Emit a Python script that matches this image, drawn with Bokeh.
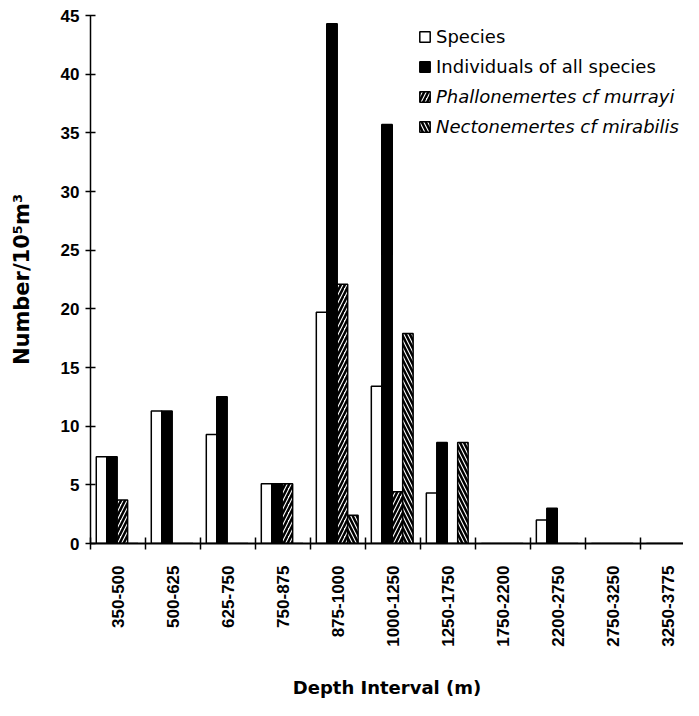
import math
from bokeh.plotting import figure
from bokeh.models import Range1d, FixedTicker, ColumnDataSource, Legend, LegendItem
from bokeh.transform import dodge
from bokeh.embed import file_html
from bokeh.resources import INLINE

categories = ["350-500", "500-625", "625-750", "750-875", "875-1000", "1000-1250",
              "1250-1750", "1750-2200", "2200-2750", "2750-3250", "3250-3775"]
species = [7.4, 11.3, 9.3, 5.1, 19.7, 13.4, 4.3, 0, 2.0, 0, 0]
individuals = [7.4, 11.3, 12.5, 5.1, 44.3, 35.7, 8.6, 0, 3.0, 0, 0]
phallonemertes = [3.7, 0, 0, 5.1, 22.1, 4.4, 0, 0, 0, 0, 0]
nectonemertes = [0, 0, 0, 0, 2.4, 17.9, 8.6, 0, 0, 0, 0]
y_ticks = [0, 5, 10, 15, 20, 25, 30, 35, 40, 45]

centers = [i + 0.5 for i in range(len(categories))]
bounds = list(range(len(categories) + 1))
src = ColumnDataSource(dict(x=centers, sp=species, ind=individuals,
                            ph=phallonemertes, ne=nectonemertes))

p = figure(width=683, height=700, x_range=Range1d(0, 10.78), y_range=Range1d(0, 45),
           output_backend="svg", toolbar_location=None,
           min_border_left=90, min_border_right=0, min_border_top=15, min_border_bottom=153)
p.outline_line_color = None
p.xgrid.visible = False
p.ygrid.visible = False

W = 0.19
r1 = p.vbar(x=dodge("x", -0.30), top="sp", width=W, source=src,
            fill_color="white", line_color="black", line_width=1.5)
r2 = p.vbar(x=dodge("x", -0.11), top="ind", width=W, source=src,
            fill_color="black", line_color="black", line_width=1.5)
r3 = p.vbar(x=dodge("x", 0.08), top="ph", width=W, source=src,
            fill_color="white", line_color="black", line_width=1.5,
            hatch_pattern="/", hatch_color="black", hatch_scale=8, hatch_weight=2.5)
r4 = p.vbar(x=dodge("x", 0.27), top="ne", width=W, source=src,
            fill_color="white", line_color="black", line_width=1.5,
            hatch_pattern="\\", hatch_color="black", hatch_scale=8, hatch_weight=2.5)

# x axis: labels at centres, ticks at interval boundaries
xa = p.xaxis[0]
xa.ticker = FixedTicker(ticks=centers, minor_ticks=bounds)
xa.major_label_overrides = {c: lab for c, lab in zip(centers, categories)}
xa.major_label_orientation = math.pi / 2
xa.major_tick_in = 0
xa.major_tick_out = 0
xa.minor_tick_in = 6
xa.minor_tick_out = 6
xa.minor_tick_line_color = "black"
xa.minor_tick_line_width = 1.5
xa.axis_line_width = 2
xa.axis_line_color = "black"
xa.major_label_text_font = "Liberation Sans"
xa.major_label_text_font_style = "bold"
xa.major_label_text_font_size = "17px"
xa.major_label_text_color = "black"
xa.major_label_standoff = 16
xa.axis_label = "Depth Interval (m)"
xa.axis_label_text_font = "DejaVu Sans"
xa.axis_label_text_font_style = "bold"
xa.axis_label_text_font_size = "18px"
xa.axis_label_text_color = "black"
xa.axis_label_standoff = 27

ya = p.yaxis[0]
ya.ticker = FixedTicker(ticks=y_ticks, minor_ticks=[])
ya.major_tick_in = 5
ya.major_tick_out = 5
ya.major_tick_line_width = 1.5
ya.axis_line_width = 1.5
ya.axis_line_color = "black"
ya.major_label_text_font = "Liberation Sans"
ya.major_label_text_font_style = "bold"
ya.major_label_text_font_size = "17px"
ya.major_label_text_color = "black"
ya.major_label_standoff = 6
ya.axis_label = "Number/10\u2075m\u00b3"
ya.axis_label_text_font = "DejaVu Sans"
ya.axis_label_text_font_style = "bold"
ya.axis_label_text_font_size = "21px"
ya.axis_label_text_color = "black"
ya.axis_label_standoff = 24

common = dict(glyph_width=13, glyph_height=13, label_text_font="DejaVu Sans",
              label_text_font_size="18px", label_text_color="black",
              label_height=20, spacing=9, padding=0, margin=0, label_standoff=5,
              border_line_alpha=0, background_fill_alpha=0)
leg1 = Legend(items=[LegendItem(label="Species", renderers=[r1]),
                     LegendItem(label="Individuals of all species", renderers=[r2])],
              location=(328, 466), **common)
leg2 = Legend(items=[LegendItem(label="Phallonemertes cf murrayi", renderers=[r3]),
                     LegendItem(label="Nectonemertes cf mirabilis", renderers=[r4])],
              location=(328, 406), label_text_font_style="italic", **common)
p.add_layout(leg1, "center")
p.add_layout(leg2, "center")

open("out.html", "w").write(file_html(p, INLINE))
